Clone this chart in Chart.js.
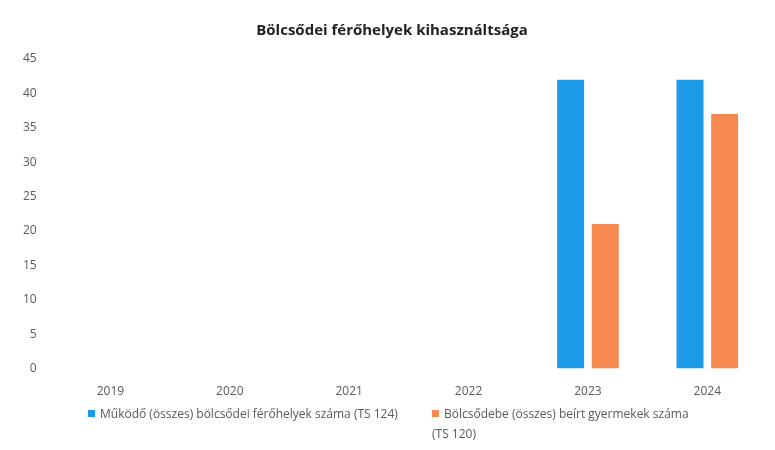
<!DOCTYPE html>
<html>
<head>
<meta charset="utf-8">
<script src="https://cdn.jsdelivr.net/npm/chart.js@4.4.0/dist/chart.umd.min.js"></script>
<style>
  body { margin: 0; background: #fff; font-family: "Open Sans", sans-serif; }
  #wrap { position: relative; width: 775px; height: 450px; }
  .leg { position: absolute; font-size: 12px; color: #595959; line-height: 20px; }
  .leg i { display: inline-block; width: 7px; height: 7px; margin-right: 5px; vertical-align: 1px; }
</style>
</head>
<body>
<div id="wrap">
  <canvas id="chart" width="775" height="450"></canvas>
  <div class="leg" style="left:88px; top:404px; white-space:nowrap;"><i style="background:#1e9be8"></i>Működő (összes) bölcsődei férőhelyek száma (TS 124)</div>
  <div class="leg" style="left:432px; top:404px; width:300px;"><i style="background:#f6894f"></i>Bölcsődebe (összes) beírt gyermekek száma<br>(TS 120)</div>
</div>
<script>
const years = ["2019", "2020", "2021", "2022", "2023", "2024"];
const ferohelyek = [null, null, null, null, 42, 42];
const gyermekek = [null, null, null, null, 21, 37];
const yTicks = [0, 5, 10, 15, 20, 25, 30, 35, 40, 45];

const ctx = document.getElementById("chart").getContext("2d");
new Chart(ctx, {
  type: "bar",
  data: {
    labels: years,
    datasets: [
      { label: "Működő (összes) bölcsődei férőhelyek száma (TS 124)", data: ferohelyek, backgroundColor: "#1e9be8" },
      { label: "Bölcsődebe (összes) beírt gyermekek száma (TS 120)", data: gyermekek, backgroundColor: "#f6894f" }
    ]
  },
  options: {
    responsive: false,
    animation: false,
    layout: { padding: { left: 17, right: 8, top: 0, bottom: 43 } },
    datasets: { bar: { categoryPercentage: 0.58, barPercentage: 0.78 } },
    plugins: {
      legend: { display: false },
      tooltip: { enabled: false },
      title: {
        display: true,
        text: "Bölcsődei férőhelyek kihasználtsága",
        color: "#222",
        font: { family: "Open Sans", size: 15, weight: "bold" },
        padding: { top: 22, bottom: 19 }
      }
    },
    scales: {
      x: {
        grid: { display: false },
        border: { display: false },
        ticks: { color: "#595959", font: { family: "Open Sans", size: 12 }, padding: 8 }
      },
      y: {
        min: 0,
        max: 45,
        afterBuildTicks: axis => { axis.ticks = yTicks.map(v => ({ value: v })); },
        grid: { display: false },
        border: { display: false },
        ticks: { color: "#595959", font: { family: "Open Sans", size: 12 }, padding: 6 }
      }
    }
  }
});
</script>
</body>
</html>
